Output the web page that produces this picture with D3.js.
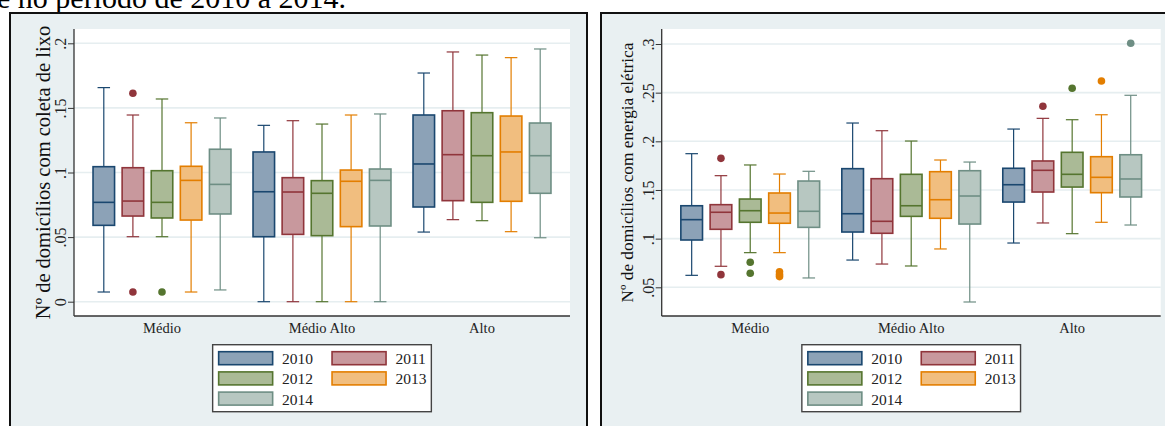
<!DOCTYPE html>
<html>
<head>
<meta charset="utf-8">
<script src="https://cdn.jsdelivr.net/npm/d3@7"></script>
<style>
  html, body { margin: 0; padding: 0; background: #ffffff; }
  svg { display: block; }
  text { font-family: "Liberation Serif", "Times New Roman", serif; }
</style>
</head>
<body>
<svg id="fig" width="1165" height="426"></svg>
<script>
// Income strata and survey years
const groups = ["Médio", "Médio Alto", "Alto"];
const years = ["2010", "2011", "2012", "2013", "2014"];

// Box summaries per year: [lower whisker, Q1, median, Q3, upper whisker]
// Households with garbage collection
const lixoMedio = [
  [0.0075, 0.0591, 0.0769, 0.1045, 0.1657],
  [0.0503, 0.0663, 0.0779, 0.1037, 0.1445],
  [0.0503, 0.0648, 0.0769, 0.1014, 0.1569],
  [0.0075, 0.0632, 0.0939, 0.1048, 0.1385],
  [0.0091, 0.0679, 0.0908, 0.1180, 0.1422]
];
const lixoMedioAlto = [
  [0.0000, 0.0503, 0.0851, 0.1159, 0.1365],
  [0.0000, 0.0521, 0.0849, 0.0960, 0.1401],
  [0.0000, 0.0511, 0.0839, 0.0937, 0.1375],
  [0.0000, 0.0581, 0.0932, 0.1019, 0.1445],
  [0.0000, 0.0586, 0.0939, 0.1027, 0.1453]
];
const lixoAlto = [
  [0.0539, 0.0733, 0.1066, 0.1445, 0.1770],
  [0.0635, 0.0782, 0.1138, 0.1478, 0.1933],
  [0.0627, 0.0769, 0.1130, 0.1463, 0.1909],
  [0.0542, 0.0777, 0.1159, 0.1437, 0.1889],
  [0.0495, 0.0839, 0.1130, 0.1383, 0.1956]
];
// Outside values: [group index, year index, value]
const lixoOutliers = [
  [0, 1, 0.1613], [0, 1, 0.0075], [0, 2, 0.0075]
];
const lixoTicks = [0, 0.05, 0.1, 0.15, 0.2];

// Households with electricity
const energiaMedio = [
  [0.0623, 0.0986, 0.1195, 0.1338, 0.1873],
  [0.0716, 0.1096, 0.1271, 0.1349, 0.1647],
  [0.0856, 0.1168, 0.1287, 0.1407, 0.1757],
  [0.0856, 0.1158, 0.1263, 0.1469, 0.1664],
  [0.0596, 0.1116, 0.1281, 0.1592, 0.1692]
];
const energiaMedioAlto = [
  [0.0780, 0.1068, 0.1256, 0.1719, 0.2188],
  [0.0739, 0.1055, 0.1178, 0.1616, 0.2109],
  [0.0719, 0.1229, 0.1338, 0.1661, 0.2003],
  [0.0894, 0.1209, 0.1400, 0.1688, 0.1808],
  [0.0349, 0.1150, 0.1438, 0.1698, 0.1787]
];
const energiaAlto = [
  [0.0955, 0.1376, 0.1554, 0.1723, 0.2126],
  [0.1161, 0.1479, 0.1702, 0.1798, 0.2236],
  [0.1051, 0.1530, 0.1661, 0.1887, 0.2222],
  [0.1168, 0.1472, 0.1630, 0.1842, 0.2273],
  [0.1140, 0.1428, 0.1613, 0.1862, 0.2473]
];
const energiaOutliers = [
  [0, 1, 0.1825], [0, 1, 0.0630],
  [0, 2, 0.0757], [0, 2, 0.0644],
  [0, 3, 0.0660], [0, 3, 0.0632], [0, 3, 0.0610],
  [2, 1, 0.2360], [2, 2, 0.2545], [2, 3, 0.2620], [2, 4, 0.3007]
];
const energiaTicks = [0.05, 0.1, 0.15, 0.2, 0.25, 0.3];

// Series colours (line, fill)
const lineColors = ["#1a476f", "#90353b", "#55752f", "#e37e00", "#6e8e84"];
const fillColors = ["#8ca2b7", "#c8989d", "#aaba96", "#f1be7f", "#b7c7c1"];

const svg = d3.select("#fig");
const bg = "#e9f0f2";

// Caption fragment running above the figure
svg.append("text")
  .attr("x", -3).attr("y", 8)
  .attr("font-size", 30).attr("fill", "#000")
  .text("e no período de 2010 a 2014.");

const stat = (row) => ({ lo: row[0], q1: row[1], med: row[2], q3: row[3], hi: row[4] });

function panel(cfg) {
  const g = svg.append("g");
  // graph region
  g.append("rect")
    .attr("x", cfg.frame[0]).attr("y", cfg.frame[1])
    .attr("width", cfg.frame[2]).attr("height", cfg.frame[3])
    .attr("fill", bg).attr("stroke", "#111").attr("stroke-width", 2);
  // plot region
  const L = cfg.plot[0], R = cfg.plot[1], T = cfg.plot[2], B = cfg.plot[3];
  g.append("rect").attr("x", L).attr("y", T).attr("width", R - L).attr("height", B - T).attr("fill", "#fff");

  const y = d3.scaleLinear().domain(cfg.yDomain).range(cfg.yRange);
  const x = d3.scaleBand().domain(groups).range([L, R]).paddingInner(0.0906).paddingOuter(0.0953);
  const xs = d3.scaleBand().domain(years).range([0, x.bandwidth()]).paddingInner(0.26).paddingOuter(0.13);

  // grid
  g.append("g").selectAll("line").data(cfg.ticks).join("line")
    .attr("x1", L).attr("x2", R)
    .attr("y1", d => y(d)).attr("y2", d => y(d))
    .attr("stroke", "#e6eef0").attr("stroke-width", 1.6);

  // y axis
  const fmt = d => d === 0 ? "0" : String(+d.toFixed(3)).replace(/^0\./, ".");
  const yAxis = g.append("g").attr("transform", `translate(${L},0)`)
    .call(d3.axisLeft(y).tickValues(cfg.ticks).tickFormat(fmt).tickSize(6).tickPadding(3));
  yAxis.select(".domain").remove();
  yAxis.selectAll(".tick line").attr("stroke", "#333").attr("stroke-width", 1);
  yAxis.selectAll(".tick text")
    .attr("x", null).attr("dy", null)
    .attr("transform", "translate(-8,0) rotate(-90)")
    .attr("text-anchor", "middle")
    .attr("font-size", 16).attr("fill", "#222")
    .attr("font-family", "'Liberation Serif', 'Times New Roman', serif");
  g.append("line").attr("x1", L).attr("x2", L).attr("y1", T).attr("y2", B)
    .attr("stroke", "#333").attr("stroke-width", 1.3);
  g.append("line").attr("x1", L).attr("x2", R).attr("y1", B).attr("y2", B)
    .attr("stroke", "#333").attr("stroke-width", 1.3);

  // x axis labels
  const xAxis = g.append("g").attr("transform", `translate(0,${B})`)
    .call(d3.axisBottom(x).tickSize(0).tickPadding(6));
  xAxis.select(".domain").remove();
  xAxis.selectAll(".tick text")
    .attr("y", 17).attr("dy", null)
    .attr("font-size", 14.5).attr("fill", "#222")
    .attr("font-family", "'Liberation Serif', 'Times New Roman', serif");

  // y title
  g.append("text")
    .attr("transform", `translate(${cfg.titleX},${(T + B) / 2}) rotate(-90)`)
    .attr("text-anchor", "middle").attr("font-size", cfg.titleSize).attr("fill", "#111")
    .text(cfg.title);

  // boxes
  const capW = xs.bandwidth() * 0.58;
  cfg.series.forEach((rows, gi) => {
    rows.forEach((row, yi) => {
      const s = stat(row);
      const cx = x(groups[gi]) + xs(years[yi]) + xs.bandwidth() / 2;
      const bx = x(groups[gi]) + xs(years[yi]);
      const c = lineColors[yi];
      const b = g.append("g");
      b.append("line").attr("x1", cx).attr("x2", cx).attr("y1", y(s.hi)).attr("y2", y(s.q3))
        .attr("stroke", c).attr("stroke-width", 1.2);
      b.append("line").attr("x1", cx).attr("x2", cx).attr("y1", y(s.q1)).attr("y2", y(s.lo))
        .attr("stroke", c).attr("stroke-width", 1.2);
      b.append("line").attr("x1", cx - capW / 2).attr("x2", cx + capW / 2).attr("y1", y(s.hi)).attr("y2", y(s.hi))
        .attr("stroke", c).attr("stroke-width", 1.2);
      b.append("line").attr("x1", cx - capW / 2).attr("x2", cx + capW / 2).attr("y1", y(s.lo)).attr("y2", y(s.lo))
        .attr("stroke", c).attr("stroke-width", 1.2);
      b.append("rect").attr("x", bx).attr("y", y(s.q3))
        .attr("width", xs.bandwidth()).attr("height", y(s.q1) - y(s.q3))
        .attr("fill", fillColors[yi]).attr("stroke", c).attr("stroke-width", 1.6);
      b.append("line").attr("x1", bx).attr("x2", bx + xs.bandwidth()).attr("y1", y(s.med)).attr("y2", y(s.med))
        .attr("stroke", c).attr("stroke-width", 1.6);
    });
  });
  g.append("g").selectAll("circle").data(cfg.outliers).join("circle")
    .attr("cx", d => x(groups[d[0]]) + xs(years[d[1]]) + xs.bandwidth() / 2)
    .attr("cy", d => y(d[2]))
    .attr("r", 3.8)
    .attr("fill", d => lineColors[d[1]]);

  // legend
  const lw = 218.7, lh = 67;
  const lx = (L + R) / 2 - lw / 2, ly = 344.7;
  const lg = g.append("g").attr("transform", `translate(${lx},${ly})`);
  lg.append("rect").attr("width", lw).attr("height", lh).attr("fill", "#fff")
    .attr("stroke", "#444").attr("stroke-width", 1.4);
  years.forEach((yr, i) => {
    const col = i % 2, row = Math.floor(i / 2);
    const sx = 6 + col * 113.4, sy = 7 + row * 20.2;
    lg.append("rect").attr("x", sx).attr("y", sy).attr("width", 54).attr("height", 13)
      .attr("fill", fillColors[i]).attr("stroke", lineColors[i]).attr("stroke-width", 1.6);
    lg.append("text").attr("x", sx + 63.4).attr("y", sy + 12.6)
      .attr("font-size", 15.5).attr("fill", "#222").text(yr);
  });
}

panel({
  frame: [10, 13, 577, 430],
  plot: [74, 570, 29, 316],
  yDomain: [0, 0.2], yRange: [301.7, 43.3],
  ticks: lixoTicks,
  series: [lixoMedio, lixoMedioAlto, lixoAlto],
  outliers: lixoOutliers,
  title: "Nº de domicílios com coleta de lixo",
  titleX: 50, titleSize: 20.5
});

panel({
  frame: [601, 13, 580, 430],
  plot: [661.7, 1160.7, 29, 316],
  yDomain: [0.05, 0.3], yRange: [287.3, 44],
  ticks: energiaTicks,
  series: [energiaMedio, energiaMedioAlto, energiaAlto],
  outliers: energiaOutliers,
  title: "Nº de domicílios com energia elétrica",
  titleX: 633, titleSize: 17.3
});
</script>
</body>
</html>
